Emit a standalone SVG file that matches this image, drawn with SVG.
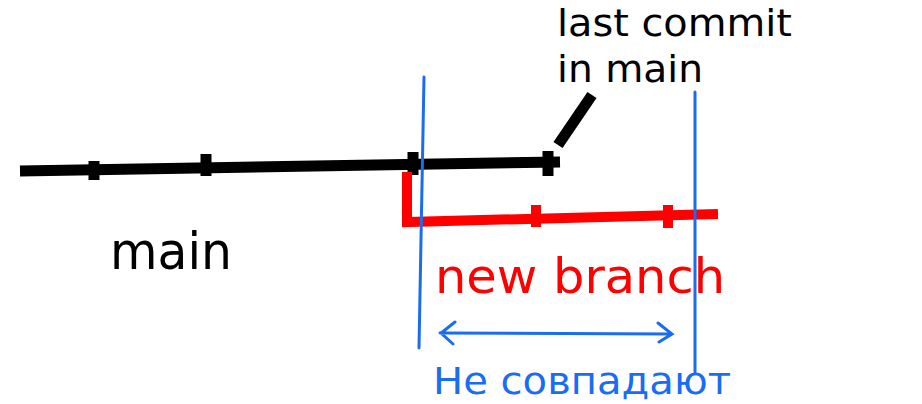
<svg xmlns="http://www.w3.org/2000/svg" width="922" height="404" viewBox="0 0 922 404">
<style>
.t{font-family:"DejaVu Sans",sans-serif}
.k{stroke:#000;stroke-width:11;fill:none;stroke-linejoin:round}
.r{stroke:#f00;stroke-width:10;fill:none}
.b{stroke:#1a6cf0;stroke-width:3;fill:none;stroke-linecap:round}
</style>
<rect width="922" height="404" fill="#fff"/>
<g id="main-branch">
<path class="k" d="M20 171 L560 162"/>
<path class="k" d="M94 161 V180 M206 154 V176 M413 152 V175 M548 151 V176"/>
<path class="k" d="M592 95 L558 145" stroke-width="8"/>
</g>
<g id="new-branch">
<path class="r" d="M407 172 V222 L718 214"/>
<path class="r" d="M536 205 V227 M668 205 V228"/>
</g>
<g id="markers">
<path class="b" d="M424 77 L419 348"/>
<path class="b" d="M695 92 V372"/>
<path class="b" d="M440 333 L672 334 M455 322 L441 333 L453 344 M658 323 L672 334 L659 342"/>
</g>
<text class="t" x="557" y="36" font-size="38" textLength="235" lengthAdjust="spacingAndGlyphs">last commit</text>
<text class="t" x="557" y="82" font-size="38" textLength="146" lengthAdjust="spacingAndGlyphs">in main</text>
<text class="t" x="110" y="269" font-size="52" textLength="122" lengthAdjust="spacingAndGlyphs">main</text>
<text class="t" x="435" y="293" font-size="48" fill="#f00" textLength="290" lengthAdjust="spacingAndGlyphs">new branch</text>
<text class="t" x="433" y="394" font-size="37" fill="#1a6cf0" textLength="298" lengthAdjust="spacingAndGlyphs">Не совпадают</text>
</svg>
